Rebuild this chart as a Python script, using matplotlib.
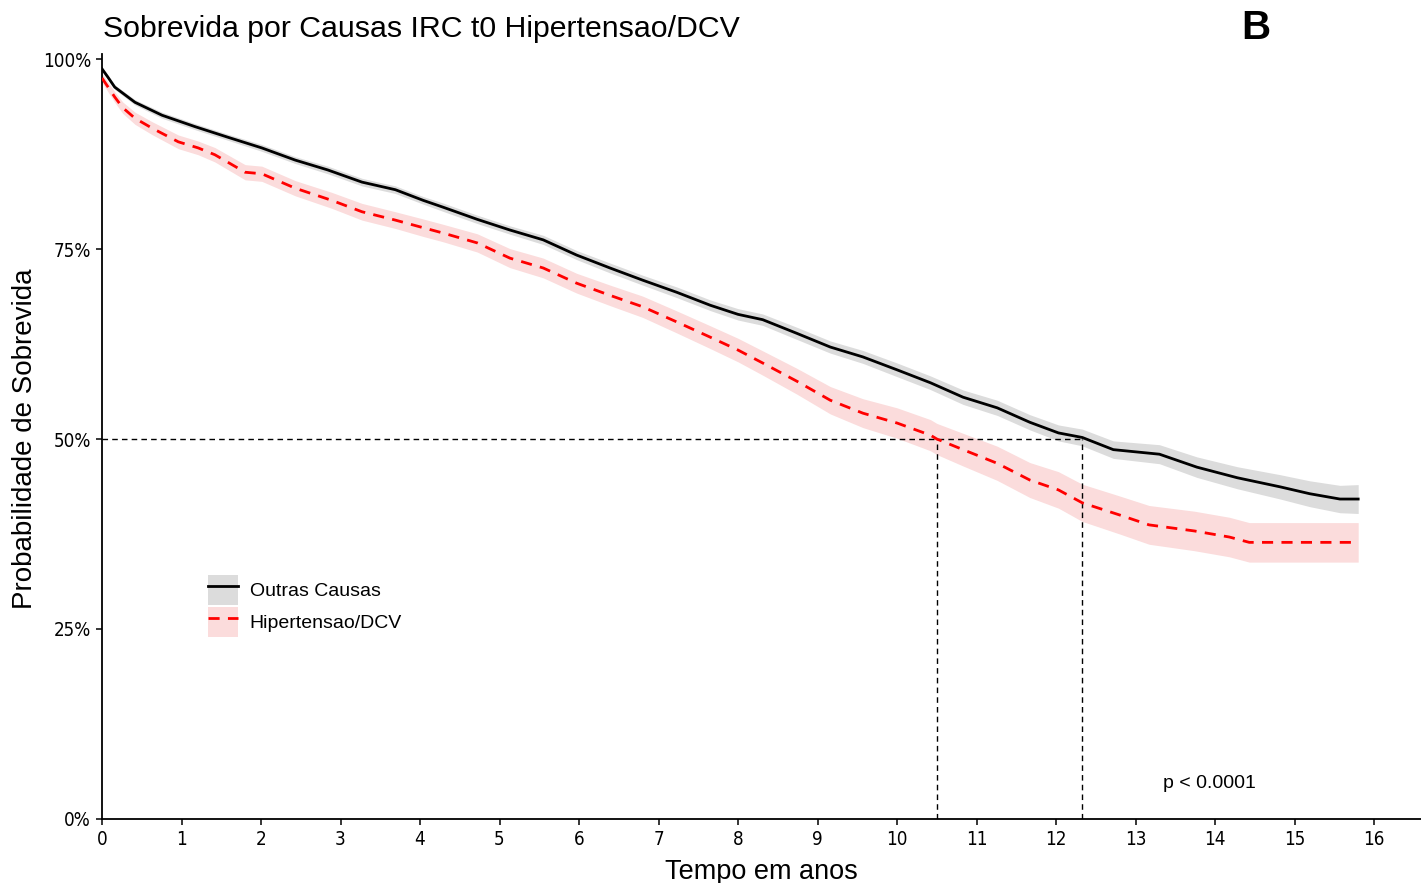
import numpy as np
import matplotlib
matplotlib.use("Agg")
import matplotlib.pyplot as plt
from matplotlib.patches import Patch
from matplotlib.lines import Line2D
from matplotlib.legend_handler import HandlerTuple
from matplotlib.ticker import PercentFormatter

# Kaplan-Meier estimates (time in years, survival in %)
outras_t = [0, 0.075, 0.16, 0.415, 0.755, 1.17, 1.585, 2.01, 2.43, 2.84,
            3.27, 3.69, 4.04, 4.29, 4.72, 5.13, 5.55, 5.97, 6.39, 6.80,
            7.23, 7.65, 8.0, 8.31, 8.74, 9.16, 9.57, 10.0, 10.42, 10.83,
            11.26, 11.67, 12.03, 12.33, 12.72, 13.3, 13.77, 14.28, 14.82, 15.19,
            15.57, 15.8]
outras_s = [98.7, 97.6, 96.3, 94.3, 92.6, 91.1, 89.7, 88.3, 86.7, 85.4,
            83.8, 82.8, 81.4, 80.5, 78.9, 77.5, 76.2, 74.2, 72.5, 70.9,
            69.3, 67.6, 66.4, 65.7, 63.9, 62.1, 60.8, 59.1, 57.4, 55.5,
            54.1, 52.2, 50.8, 50.2, 48.6, 48.0, 46.3, 44.9, 43.7, 42.8,
            42.1, 42.1]
# half width of the confidence band
outras_ci = [0.3, 0.3, 0.3, 0.35, 0.4, 0.4, 0.4, 0.45, 0.45, 0.5,
             0.5, 0.5, 0.5, 0.55, 0.55, 0.55, 0.6, 0.6, 0.65, 0.65,
             0.7, 0.7, 0.75, 0.75, 0.8, 0.8, 0.85, 0.9, 0.9, 0.95,
             1.0, 1.0, 1.05, 1.1, 1.15, 1.25, 1.35, 1.45, 1.6, 1.7,
             1.8, 1.9]

hip_t = [0, 0.16, 0.26, 0.415, 0.63, 0.96, 1.21, 1.42, 1.8, 2.01,
         2.43, 2.89, 3.27, 3.69, 4.04, 4.29, 4.72, 5.13, 5.55, 5.97,
         6.39, 6.80, 7.23, 7.65, 8.0, 8.31, 8.74, 9.16, 9.57, 10.0,
         10.42, 10.5, 10.83, 11.26, 11.67, 12.03, 12.33, 12.8, 13.17, 13.74,
         14.18, 14.43, 15.8]
hip_s = [97.5, 95.0, 93.6, 92.2, 90.9, 89.1, 88.3, 87.4, 85.1, 84.9,
         83.0, 81.4, 79.9, 78.8, 77.8, 77.1, 75.8, 73.8, 72.5, 70.5,
         68.9, 67.4, 65.4, 63.4, 61.7, 60.0, 57.6, 55.1, 53.4, 52.1,
         50.5, 50.0, 48.6, 46.8, 44.6, 43.3, 41.6, 40.0, 38.7, 37.9,
         37.1, 36.4, 36.4]
hip_ci = [0.6, 0.7, 0.75, 0.8, 0.85, 0.9, 0.9, 0.95, 1.0, 1.0,
          1.0, 1.05, 1.1, 1.1, 1.15, 1.15, 1.2, 1.25, 1.3, 1.3,
          1.35, 1.4, 1.45, 1.5, 1.55, 1.6, 1.7, 1.8, 1.9, 2.0,
          2.05, 2.05, 2.15, 2.25, 2.3, 2.4, 2.45, 2.5, 2.55, 2.6,
          2.6, 2.6, 2.6]

median_outras = 12.33
median_hip = 10.5

labels = ["Outras Causas", "Hipertensao/DCV"]
x_ticks = list(range(0, 17))
y_ticks = [0, 25, 50, 75, 100]

plt.rcParams["font.family"] = ["Liberation Sans", "DejaVu Sans"]

fig = plt.figure(figsize=(14.21, 8.83), dpi=100)
ax = fig.add_axes([102 / 1421, 64 / 883, 1 - 102 / 1421, 760 / 883])

ot = np.array(outras_t); os_ = np.array(outras_s); oc = np.array(outras_ci)
ht = np.array(hip_t); hs = np.array(hip_s); hc = np.array(hip_ci)

# confidence bands
ax.fill_between(ot, os_ - oc, os_ + oc, color="#dcdcdc", lw=0, zorder=1)
ax.fill_between(ht, hs - hc, hs + hc, color="#fbdcdc", lw=0, zorder=1)

# median reference lines
ax.plot([0, median_outras], [50, 50], color="black", lw=1.0, dashes=(4, 3), zorder=2)
ax.plot([median_hip, median_hip], [0, 50], color="black", lw=1.0, dashes=(4, 3), zorder=2)
ax.plot([median_outras, median_outras], [0, 50], color="black", lw=1.0, dashes=(4, 3), zorder=2)

# survival curves
ax.plot(ot, os_, color="black", lw=2.0, zorder=3)
ax.plot(ht, hs, color="#ff0000", lw=2.0, dashes=(4, 3), zorder=3)

ax.set_xlim(0, 16.59)
ax.set_ylim(0, 100)
ax.set_xticks(x_ticks)
ax.set_yticks(y_ticks)
ax.yaxis.set_major_formatter(PercentFormatter(decimals=0))
for side in ["top", "right"]:
    ax.spines[side].set_visible(False)
for side in ["left", "bottom"]:
    ax.spines[side].set_linewidth(1.3)
ax.spines["left"].set_bounds(0, 100.6)
ax.tick_params(direction="out", length=4, width=1.1, pad=4)
for lab in ax.get_xticklabels() + ax.get_yticklabels():
    lab.set_family(["DejaVu Sans"])
    lab.set_fontstretch("condensed")
    lab.set_fontsize(13.5)

ax.set_xlabel("Tempo em anos", fontsize=19.5, labelpad=7)
ax.set_ylabel("Probabilidade de Sobrevida", fontsize=20, labelpad=3)

fig.text(103 / 1421, 1 - 29 / 883, "Sobrevida por Causas IRC t0 Hipertensao/DCV",
         fontsize=21.8, ha="left", va="center")
fig.text(1256 / 1421, 1 - 28 / 883, "B", fontsize=29, fontweight="bold",
         ha="center", va="center")

ax.text(13.93, 4.7, "p < 0.0001", fontsize=14, ha="center", va="center")

handles = [
    (Patch(facecolor="#dcdcdc", edgecolor="none"), Line2D([], [], color="black", lw=2.0)),
    (Patch(facecolor="#fbdcdc", edgecolor="none"), Line2D([], [], color="#ff0000", lw=2.0, dashes=(4, 3))),
]
ax.legend(handles, labels, loc="upper left", bbox_to_anchor=(106 / 1319, 244 / 760),
          frameon=False, fontsize=14, handlelength=1.55, handleheight=2.0,
          handletextpad=0.6, labelspacing=0.1, borderpad=0, borderaxespad=0,
          handler_map={tuple: HandlerTuple(ndivide=1, pad=0)})

fig.savefig("out.png", dpi=100)
